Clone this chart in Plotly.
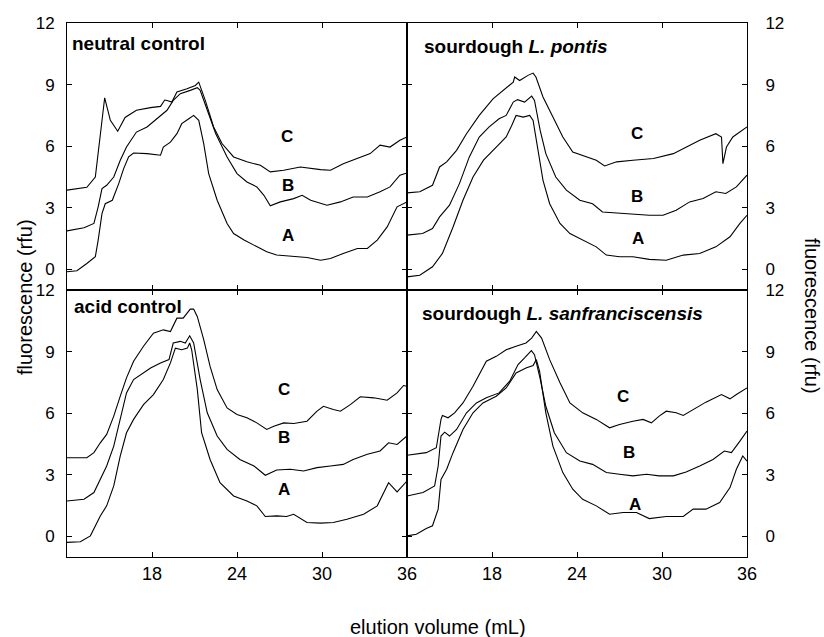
import plotly.graph_objects as go
from plotly.subplots import make_subplots

# ---------------- data (elution volume mL, fluorescence rfu) ----------------
# neutral control
nc_A_x = [12, 12.7, 13.4, 14, 14.2, 14.47, 14.7, 15.2, 15.65, 16, 16.35, 16.7, 17.65, 18.6, 18.8, 19.3, 19.76, 20.1, 20.6, 20.94, 21.3, 21.65, 22, 22.6, 23.3, 23.76, 24.5, 25.4, 26.1, 26.8, 27.76, 28.94, 29.9, 30.6, 31.5, 32.5, 33.2, 33.9, 34.6, 35.3, 36]
nc_A_y = [-0.11, -0.06, 0.29, 0.62, 1.43, 2.72, 3.2, 3.37, 4.18, 4.91, 5.48, 5.67, 5.64, 5.56, 5.96, 6.2, 6.61, 7.1, 7.34, 7.5, 7.26, 6.13, 4.67, 3.37, 2.24, 1.75, 1.43, 1.1, 0.86, 0.7, 0.65, 0.58, 0.45, 0.53, 0.78, 1.02, 1.02, 1.43, 2.07, 3.05, 3.29]
nc_B_x = [12, 13.2, 13.9, 14.2, 14.47, 14.8, 15.3, 15.76, 16.2, 16.9, 17.65, 18.35, 19.06, 19.5, 20, 20.7, 21.2, 21.4, 21.9, 22.5, 23.3, 24, 24.7, 25.4, 25.9, 26.35, 27.06, 28, 28.6, 29.2, 30.35, 31.3, 32.2, 33.2, 34.1, 34.8, 35.5, 36]
nc_B_y = [1.88, 2.03, 2.24, 3.05, 3.94, 4.1, 4.5, 5.32, 5.96, 6.69, 6.94, 7.34, 7.75, 8.23, 8.56, 8.72, 8.85, 8.72, 7.75, 6.61, 5.48, 4.67, 4.26, 4.02, 3.61, 3.1, 3.29, 3.45, 3.61, 3.37, 3.13, 3.29, 3.53, 3.53, 3.78, 4.02, 4.59, 4.7]
nc_C_x = [12, 13.4, 14, 14.35, 14.66, 15.06, 15.58, 16.1, 16.9, 17.9, 18.6, 18.9, 19.06, 19.4, 19.76, 20.47, 21.06, 21.3, 21.76, 22.35, 22.94, 23.76, 24.7, 25.65, 26.35, 27.3, 28.47, 29.9, 30.6, 31.5, 32.7, 33.4, 34.1, 34.8, 35.5, 36]
nc_C_y = [3.86, 4.0, 4.5, 6.6, 8.36, 7.26, 6.73, 7.4, 7.75, 7.88, 7.94, 8.25, 8.23, 8.15, 8.64, 8.8, 8.96, 9.12, 8.23, 6.94, 6.13, 5.48, 5.24, 5.07, 4.75, 4.83, 4.99, 4.86, 4.83, 5.15, 5.48, 5.64, 6.05, 5.96, 6.29, 6.45]

# sourdough L. pontis
lp_A_x = [12, 12.9, 13.8, 14.5, 15.25, 15.95, 16.66, 17.4, 18.3, 19, 19.4, 19.7, 20.2, 20.66, 20.9, 21.25, 21.6, 22.07, 22.8, 23.5, 24.66, 25.36, 26.07, 27, 27.95, 29.1, 30.3, 31.5, 32.66, 33.8, 34.8, 35.5, 36]
lp_A_y = [-0.36, -0.28, 0.13, 0.78, 2.07, 3.37, 4.5, 5.32, 5.96, 6.45, 7.02, 7.5, 7.42, 7.5, 7.26, 5.8, 4.34, 3.2, 2.24, 1.75, 1.35, 1.1, 0.7, 0.62, 0.62, 0.49, 0.45, 0.7, 0.78, 1.1, 1.59, 2.24, 2.64]
lp_B_x = [12, 13.1, 13.8, 14.3, 15, 15.7, 16.4, 17.1, 17.8, 18.5, 19, 19.5, 19.8, 20.3, 20.8, 21, 21.4, 21.8, 22.5, 23.25, 24.2, 25.1, 25.8, 26.8, 27.95, 29.1, 30.07, 31, 31.95, 32.9, 33.8, 34.5, 35.25, 36]
lp_B_y = [1.67, 1.75, 1.99, 2.56, 3.13, 4.18, 5.48, 6.45, 6.94, 7.34, 7.5, 8.15, 8.27, 8.15, 8.44, 8.23, 6.77, 5.64, 4.5, 3.86, 3.37, 3.2, 2.8, 2.76, 2.72, 2.64, 2.64, 2.88, 3.29, 3.45, 3.78, 3.7, 4.02, 4.59]
lp_C_x = [12, 12.9, 13.8, 14.3, 14.8, 15.5, 16.2, 17.1, 18.07, 18.8, 19.5, 19.6, 19.95, 20.54, 20.9, 21.1, 21.6, 22.3, 23, 23.7, 24.66, 25.36, 25.95, 26.8, 27.95, 29.4, 30.8, 31.7, 32.66, 33.8, 34.2, 34.3, 34.55, 35, 35.5, 36]
lp_C_y = [3.73, 3.78, 4.1, 4.99, 5.24, 5.8, 6.61, 7.5, 8.31, 8.72, 9.12, 9.37, 9.2, 9.45, 9.56, 9.37, 8.4, 7.42, 6.45, 5.72, 5.48, 5.32, 5.04, 5.24, 5.32, 5.4, 5.64, 5.96, 6.29, 6.61, 6.45, 5.15, 5.96, 6.45, 6.69, 6.94]

# acid control
ac_A_x = [12, 12.94, 13.65, 14.35, 14.8, 15.3, 15.76, 16.2, 16.7, 17.4, 18.1, 18.8, 19.3, 19.65, 20.1, 20.5, 20.66, 20.8, 21.2, 21.5, 22.1, 22.8, 23.76, 24.7, 25.4, 26, 26.8, 27.5, 28, 28.94, 29.9, 30.8, 31.76, 32.94, 33.9, 34.35, 34.7, 35.3, 36]
ac_A_y = [-0.29, -0.26, 0.03, 1.0, 1.49, 2.46, 3.92, 5.05, 5.7, 6.42, 6.91, 7.64, 8.45, 9.17, 9.09, 9.17, 9.42, 9.09, 7.15, 5.05, 3.75, 2.62, 1.97, 1.73, 1.49, 0.97, 1.0, 0.97, 1.08, 0.68, 0.65, 0.68, 0.84, 1.08, 1.49, 2.14, 2.62, 2.17, 2.7]
ac_B_x = [12, 13.2, 13.9, 14.35, 14.8, 15.3, 15.76, 16.2, 16.7, 17.2, 17.9, 18.6, 19.2, 19.5, 20, 20.35, 20.66, 20.94, 21.4, 21.9, 22.6, 23.3, 24.2, 25.2, 26, 26.8, 27.76, 28.7, 29.65, 30.6, 31.5, 32.2, 33.2, 34.1, 34.7, 35.3, 36]
ac_B_y = [1.73, 1.81, 2.14, 2.78, 3.43, 4.4, 5.7, 6.99, 7.64, 7.88, 8.2, 8.45, 8.61, 9.42, 9.5, 9.42, 9.77, 9.42, 7.64, 6.02, 4.89, 4.24, 3.75, 3.43, 2.98, 3.24, 3.27, 3.19, 3.35, 3.43, 3.51, 3.75, 4.0, 4.16, 4.56, 4.48, 4.89]
ac_C_x = [12, 13.4, 13.9, 14.35, 14.8, 15.3, 15.76, 16.2, 16.7, 17.4, 18.1, 18.8, 19.3, 19.76, 20.2, 20.7, 20.94, 21.2, 21.65, 22.1, 22.6, 23.3, 24, 24.7, 25.4, 26.1, 26.6, 27.3, 28, 28.94, 29.65, 30.1, 30.8, 31.3, 32, 32.7, 33.65, 34.6, 35.3, 35.76, 36]
ac_C_y = [3.83, 3.83, 4.08, 4.56, 4.97, 5.86, 6.83, 7.72, 8.53, 9.26, 9.9, 10.06, 9.98, 10.63, 10.63, 11.07, 11.07, 10.7, 9.58, 8.28, 7.15, 6.26, 5.94, 5.78, 5.53, 5.21, 5.37, 5.53, 5.5, 5.61, 6.1, 6.34, 6.18, 6.1, 6.42, 6.8, 6.75, 6.63, 6.99, 7.35, 7.31]

# sourdough L. sanfranciscensis
ls_A_x = [12, 12.66, 13.36, 13.8, 14.2, 14.4, 14.8, 15.25, 15.95, 16.66, 17.36, 18.3, 19, 19.7, 20.4, 20.9, 21.13, 21.36, 21.8, 22.3, 23, 23.7, 24.4, 25.36, 26.3, 27.25, 28.2, 29.1, 30.3, 31.5, 32.2, 33.1, 34.07, 34.8, 35.25, 35.7, 36]
ls_A_y = [0.03, 0.11, 0.39, 0.52, 1.33, 2.78, 3.27, 4.08, 5.21, 6.02, 6.5, 6.83, 7.23, 7.96, 8.2, 8.32, 8.61, 8.04, 6.02, 4.4, 3.11, 2.3, 1.81, 1.49, 1.08, 1.17, 1.17, 0.87, 0.97, 0.97, 1.33, 1.33, 1.65, 2.38, 3.27, 3.92, 3.67]
ls_B_x = [12, 13.13, 13.95, 14.2, 14.4, 14.66, 15, 15.5, 16.2, 16.9, 17.6, 18.5, 19.25, 19.84, 20.3, 20.78, 21, 21.36, 21.8, 22.4, 23.25, 24.2, 25.1, 26.07, 27, 27.95, 28.9, 29.8, 30.8, 31.7, 32.66, 33.6, 34.4, 34.9, 35.5, 36]
ls_B_y = [1.97, 2.14, 2.46, 3.43, 4.89, 5.08, 4.89, 5.21, 6.02, 6.5, 6.75, 6.99, 7.56, 8.37, 8.69, 9.05, 8.85, 7.8, 6.34, 5.05, 4.08, 3.67, 3.51, 3.11, 3.03, 2.95, 3.03, 2.95, 2.95, 3.14, 3.43, 3.75, 4.16, 4.08, 4.64, 5.13]
ls_C_x = [12, 13.36, 14.07, 14.4, 14.5, 14.9, 15.36, 15.95, 16.66, 17.6, 18.3, 19, 19.7, 20.4, 20.8, 21.13, 21.5, 22.07, 22.8, 23.5, 24.4, 25.36, 26.3, 27, 27.95, 28.66, 29.25, 29.8, 30.3, 31, 31.5, 32.2, 33.1, 34.2, 34.8, 35.25, 36]
ls_C_y = [3.95, 4.08, 4.32, 5.7, 5.89, 5.78, 6.02, 6.5, 7.31, 8.53, 8.77, 9.09, 9.26, 9.42, 9.66, 9.98, 9.66, 8.61, 7.48, 6.5, 6.02, 5.7, 5.29, 5.45, 5.61, 5.7, 5.53, 5.86, 6.1, 6.02, 5.89, 6.18, 6.54, 6.91, 6.7, 6.91, 7.23]

panel_titles = ["<b>neutral control</b>", "<b>sourdough <i>L. pontis</i></b>",
                "<b>acid control</b>", "<b>sourdough <i>L. sanfranciscensis</i></b>"]
curve_names = ["A", "B", "C"]
# label positions (x, y) for A, B, C in each panel
label_x = [[27.6, 27.6, 27.5], [28.3, 28.2, 28.2], [27.3, 27.3, 27.3], [28.07, 27.7, 27.25]]
label_y = [[1.67, 4.1, 6.45], [1.51, 3.57, 6.61], [2.3, 4.8, 7.15], [1.57, 4.08, 6.83]]

x_ticks = [18, 24, 30, 36]
y_ticks = [0, 3, 6, 9, 12]

panels = [
    [(nc_A_x, nc_A_y), (nc_B_x, nc_B_y), (nc_C_x, nc_C_y)],
    [(lp_A_x, lp_A_y), (lp_B_x, lp_B_y), (lp_C_x, lp_C_y)],
    [(ac_A_x, ac_A_y), (ac_B_x, ac_B_y), (ac_C_x, ac_C_y)],
    [(ls_A_x, ls_A_y), (ls_B_x, ls_B_y), (ls_C_x, ls_C_y)],
]

FONT = "Liberation Sans, Arial, sans-serif"
W, H = 824, 637
ML, MR, MT, MB = 67, 77, 23, 80
PW, PH = W - ML - MR, H - MT - MB

fig = make_subplots(rows=2, cols=2, horizontal_spacing=0, vertical_spacing=0)

positions = [(1, 1), (1, 2), (2, 1), (2, 2)]
for i, (r, c) in enumerate(positions):
    for k, (xs, ys) in enumerate(panels[i]):
        fig.add_trace(go.Scatter(x=xs, y=ys, mode="lines",
                                 line=dict(color="black", width=1.1),
                                 showlegend=False, hoverinfo="skip"), row=r, col=c)
    for k, nm in enumerate(curve_names):
        fig.add_annotation(x=label_x[i][k], y=label_y[i][k], text="<b>%s</b>" % nm,
                           showarrow=False, font=dict(family=FONT, size=17, color="black"),
                           row=r, col=c)

for i, (r, c) in enumerate(positions):
    fig.update_xaxes(range=[12, 36], tickvals=x_ticks, ticks="inside", ticklen=5,
                     showline=True, linecolor="black", linewidth=1, mirror="ticks",
                     tickcolor="black", showgrid=False, zeroline=False,
                     showticklabels=(r == 2),
                     tickfont=dict(family=FONT, size=18, color="black"),
                     row=r, col=c)
    fig.update_yaxes(range=[-1, 12], tickvals=y_ticks, ticks="inside", ticklen=5,
                     showline=True, linecolor="black", linewidth=1, mirror="ticks",
                     tickcolor="black", showgrid=False, zeroline=False,
                     side=("left" if c == 1 else "right"),
                     ticklabelstandoff=(8 if c == 1 else 14),
                     tickfont=dict(family=FONT, size=17, color="black"),
                     row=r, col=c)


def px_to_paper(px, py):
    return (px - ML) / PW, (H - MB - py) / PH


# panel titles
title_px = [(70, 44), (421.5, 46.5), (71.5, 306.5), (420, 313)]
for t, (px, py) in zip(panel_titles, title_px):
    xp, yp = px_to_paper(px, py)
    fig.add_annotation(x=xp, y=yp, xref="paper", yref="paper", text=t, showarrow=False,
                       xanchor="left", yanchor="middle",
                       font=dict(family=FONT, size=19, color="black"))

# axis titles
xp, yp = px_to_paper(438, 627)
fig.add_annotation(x=xp, y=yp, xref="paper", yref="paper", text="elution volume (mL)",
                   showarrow=False, xanchor="center", yanchor="middle",
                   font=dict(family=FONT, size=20, color="black"))
xp, yp = px_to_paper(25, 297)
fig.add_annotation(x=xp, y=yp, xref="paper", yref="paper", text="fluorescence (rfu)",
                   showarrow=False, textangle=-90, xanchor="center", yanchor="middle",
                   font=dict(family=FONT, size=20, color="black"))
xp, yp = px_to_paper(812, 316)
fig.add_annotation(x=xp, y=yp, xref="paper", yref="paper", text="fluorescence (rfu)",
                   showarrow=False, textangle=90, xanchor="center", yanchor="middle",
                   font=dict(family=FONT, size=20, color="black"))

fig.update_layout(width=W, height=H, margin=dict(l=ML, r=MR, t=MT, b=MB),
                  plot_bgcolor="white", paper_bgcolor="white",
                  font=dict(family=FONT, color="black"))

fig.write_html("out.html")
